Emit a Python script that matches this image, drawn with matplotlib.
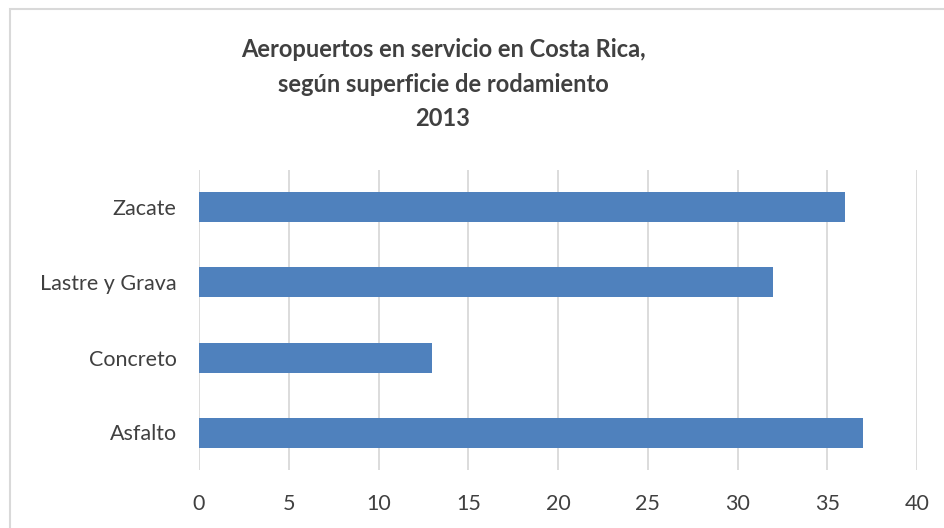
import matplotlib.pyplot as plt
from matplotlib.patches import Rectangle

# Datos: aeropuertos por superficie de rodamiento, 2013
superficies = ["Asfalto", "Concreto", "Lastre y Grava", "Zacate"]
aeropuertos = [37, 13, 32, 36]
x_ticks = [0, 5, 10, 15, 20, 25, 30, 35, 40]

plt.rcParams['font.family'] = ['Lato', 'DejaVu Sans']

fig = plt.figure(figsize=(9.44, 5.28), dpi=100)
ax = fig.add_axes([199 / 944, 1 - 470 / 528, 718 / 944, 300 / 528])

ax.barh(range(len(superficies)), aeropuertos, height=0.4, color="#4F81BD", zorder=3)

ax.set_xlim(0, 40)
ax.set_ylim(-0.5, len(superficies) - 0.5)
ax.set_xticks(x_ticks)
ax.set_yticks(range(len(superficies)))
ax.set_yticklabels(superficies)

ax.grid(axis="x", color="#D9D9D9", linewidth=1.3, zorder=0)
for s in ax.spines.values():
    s.set_visible(False)
ax.tick_params(axis="both", length=0, labelsize=15.5, colors="#404040")
ax.tick_params(axis="y", pad=16)
ax.tick_params(axis="x", pad=17)

# Título
fig.text(443 / 944, 1 - 84 / 528,
         "Aeropuertos en servicio en Costa Rica,\nsegún superficie de rodamiento\n2013",
         ha="center", va="center", fontsize=17, fontweight="bold",
         color="#404040", linespacing=1.6)

# Borde del gráfico
fig.patches.append(Rectangle((10 / 944, -0.1), 1.0, 1.1 - 9 / 528,
                             transform=fig.transFigure, fill=False,
                             edgecolor="#D9D9D9", linewidth=1.5))

fig.savefig("out.png", dpi=100)
